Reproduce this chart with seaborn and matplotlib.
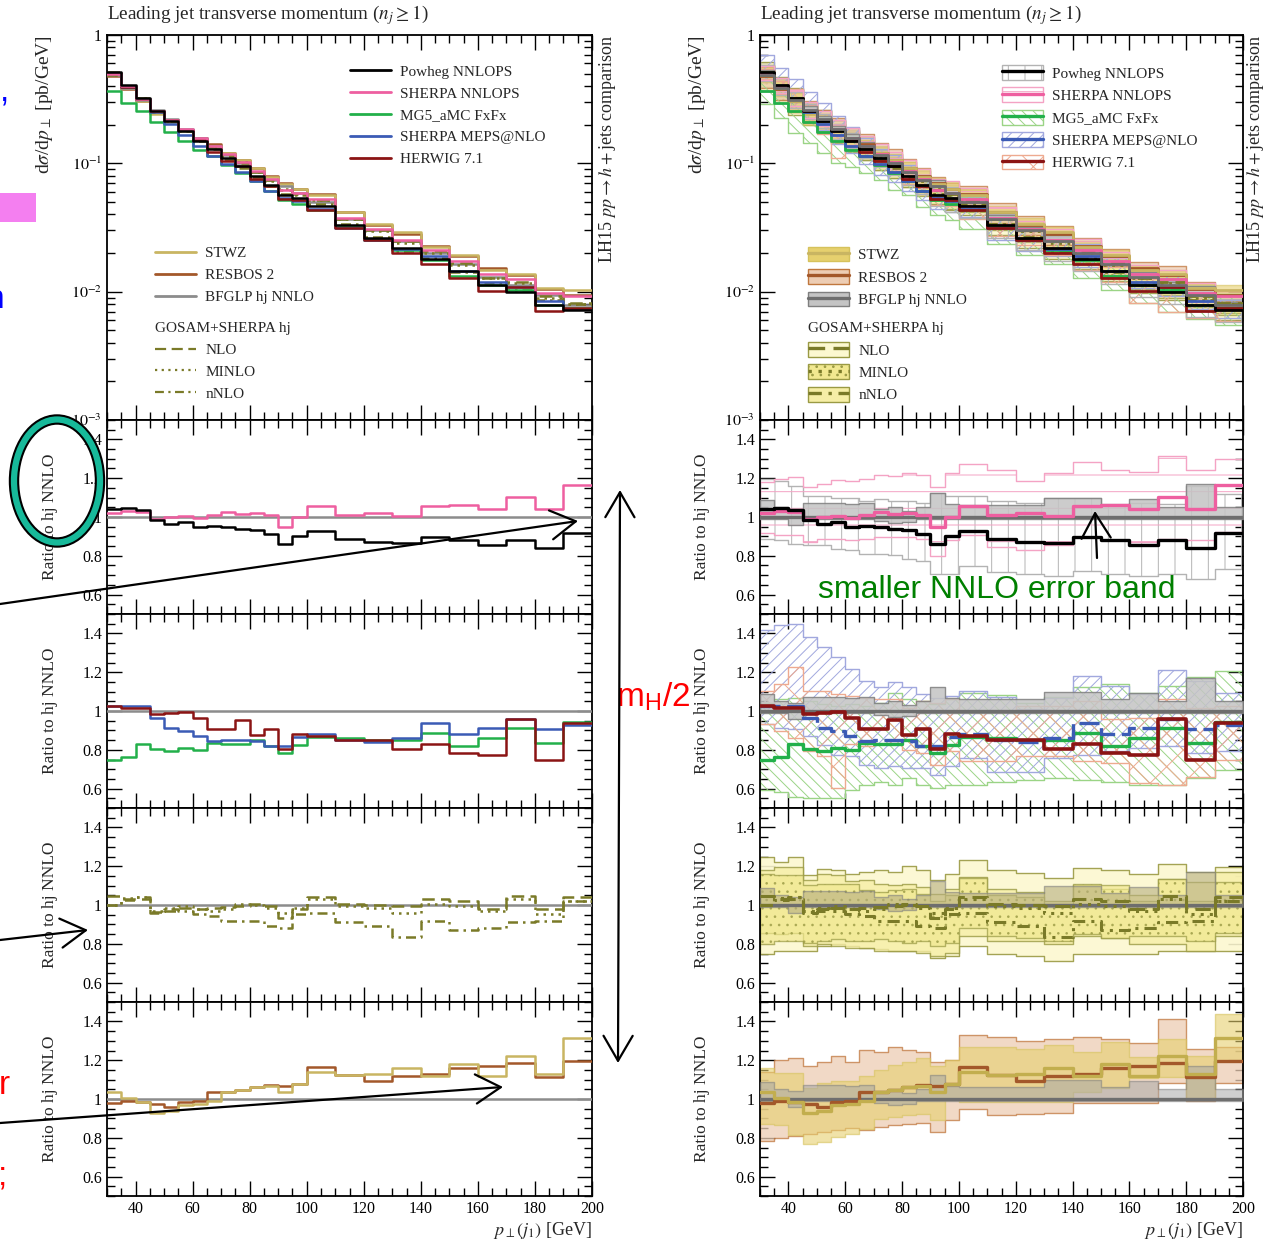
import numpy as np
import matplotlib
matplotlib.use('Agg')
import matplotlib.pyplot as plt
import seaborn as sns
from matplotlib.lines import Line2D
from matplotlib.patches import Patch, Ellipse, Rectangle, FancyArrowPatch
from matplotlib.ticker import MultipleLocator, LogLocator, NullFormatter

# bin edges of leading jet pT [GeV]
edges = [30, 35, 40, 45, 50, 55, 60, 65, 70, 75, 80, 85, 90, 95, 100,
         110, 120, 130, 140, 150, 160, 170, 180, 190, 200]

# reference: BFGLP hj NNLO  [pb/GeV]
nnlo = [0.49, 0.386, 0.311, 0.26, 0.22, 0.184, 0.158, 0.136, 0.116, 0.101, 0.086, 0.074,
        0.066, 0.059, 0.050, 0.037, 0.030, 0.025, 0.020, 0.0163, 0.0131, 0.0113, 0.0094, 0.0079]
nnlo_hi = [1.09, 1.05, 1.04, 1.07, 1.07, 1.07, 1.065, 1.07, 1.04, 1.05, 1.03, 1.05,
           1.126, 1.065, 1.06, 1.06, 1.06, 1.10, 1.10, 1.06, 1.095, 1.05, 1.17, 1.05]
nnlo_lo = [0.99, 0.99, 0.96, 0.99, 0.99, 0.99, 0.99, 0.99, 0.98, 0.97, 0.975, 0.99,
           0.99, 0.99, 0.99, 0.99, 0.99, 0.99, 0.99, 0.99, 0.99, 0.99, 0.99, 0.99]

# ratios to hj NNLO (central values)
powheg = [1.043, 1.047, 1.038, 0.986, 0.963, 0.972, 0.946, 0.955, 0.946, 0.937, 0.934, 0.913,
          0.859, 0.904, 0.930, 0.887, 0.873, 0.868, 0.896, 0.882, 0.856, 0.882, 0.842, 0.917]
sherpa_nnlops = [1.021, 1.03, 1.026, 0.991, 0.998, 1.007, 0.995, 1.012, 1.026, 1.017, 1.021, 1.012,
                 0.946, 0.998, 1.056, 1.012, 1.021, 1.007, 1.056, 1.061, 1.043, 1.103, 1.043, 1.163]
mg5 = [0.75, 0.762, 0.828, 0.802, 0.793, 0.807, 0.797, 0.836, 0.831, 0.831, 0.848, 0.819,
       0.784, 0.824, 0.866, 0.859, 0.848, 0.848, 0.888, 0.819, 0.859, 0.914, 0.836, 0.945]
meps = [1.026, 1.026, 1.026, 0.962, 0.914, 0.897, 0.871, 0.845, 0.853, 0.853, 0.845, 0.819,
        0.819, 0.866, 0.883, 0.853, 0.841, 0.859, 0.94, 0.883, 0.91, 0.957, 0.905, 0.928]
herwig = [1.026, 1.014, 1.014, 0.983, 0.991, 0.997, 0.966, 0.905, 0.905, 0.952, 0.876, 0.905,
          0.802, 0.883, 0.871, 0.848, 0.848, 0.805, 0.828, 0.784, 0.772, 0.957, 0.75, 0.94]
gs_nlo = [1.046, 1.03, 1.03, 0.96, 0.97, 0.986, 0.978, 0.986, 0.99, 0.995, 1.003, 0.995,
          0.935, 0.978, 1.04, 1.003, 1.0, 0.995, 1.03, 1.02, 0.978, 1.046, 0.978, 1.04]
gs_minlo = [1.0, 1.037, 1.04, 0.97, 0.986, 0.995, 0.978, 0.97, 0.978, 1.007, 1.0, 0.986,
            0.96, 0.986, 1.03, 0.995, 0.986, 0.96, 1.007, 0.995, 0.97, 1.03, 0.955, 1.02]
gs_nnlo = [1.0, 1.024, 1.04, 0.966, 0.978, 0.97, 0.952, 0.944, 0.918, 0.918, 0.915, 0.892,
           0.88, 0.952, 0.96, 0.91, 0.892, 0.836, 0.918, 0.87, 0.884, 0.91, 0.918, 1.02]
stwz = [1.038, 1.003, 0.983, 0.928, 0.94, 0.969, 0.974, 0.991, 1.034, 1.048, 1.06, 1.066,
        1.038, 1.078, 1.138, 1.124, 1.129, 1.159, 1.117, 1.178, 1.117, 1.22, 1.129, 1.316]
resbos = [0.98, 0.991, 0.986, 0.974, 0.957, 0.986, 0.991, 1.034, 1.034, 1.048, 1.06, 1.072,
          1.069, 1.078, 1.164, 1.124, 1.095, 1.117, 1.129, 1.159, 1.172, 1.186, 1.112, 1.198]

# uncertainty bands (ratio to hj NNLO)
powheg_hi = [1.196, 1.188, 1.161, 1.109, 1.109, 1.10, 1.10, 1.082, 1.091, 1.082, 1.082, 1.074,
             1.126, 1.109, 1.109, 1.082, 1.074, 1.10, 1.10, 1.065, 1.074, 1.068, 1.161, 1.118]
powheg_lo = [0.889, 0.881, 0.863, 0.854, 0.854, 0.837, 0.828, 0.811, 0.811, 0.802, 0.784, 0.775,
             0.705, 0.705, 0.749, 0.714, 0.705, 0.696, 0.723, 0.705, 0.696, 0.705, 0.679, 0.732]
sherpa_nnlops_hi = [1.18, 1.196, 1.205, 1.153, 1.17, 1.191, 1.188, 1.196, 1.214, 1.209, 1.226, 1.214,
                    1.153, 1.226, 1.275, 1.24, 1.188, 1.226, 1.284, 1.24, 1.23, 1.314, 1.24, 1.30]
sherpa_nnlops_lo = [0.916, 0.907, 0.907, 0.87, 0.888, 0.888, 0.884, 0.888, 0.898, 0.898, 0.898, 0.888,
                    0.80, 0.879, 0.907, 0.845, 0.83, 0.856, 0.898, 0.879, 0.87, 0.888, 0.879, 0.925]
meps_hi = [1.417, 1.443, 1.451, 1.382, 1.33, 1.278, 1.217, 1.156, 1.122, 1.148, 1.122, 1.087,
           1.069, 1.078, 1.104, 1.073, 1.009, 1.069, 1.182, 1.13, 1.087, 1.212, 1.156, 1.095]
meps_lo = [0.931, 0.913, 0.905, 0.87, 0.826, 0.774, 0.766, 0.722, 0.705, 0.714, 0.705, 0.705,
           0.67, 0.714, 0.757, 0.688, 0.688, 0.757, 0.774, 0.792, 0.809, 0.818, 0.783, 0.792]
mg5_hi = [1.043, 1.061, 1.066, 1.052, 1.035, 1.026, 1.035, 1.026, 1.043, 1.095, 1.061, 1.052,
          1.035, 1.061, 1.095, 1.083, 1.043, 1.073, 1.122, 1.139, 1.095, 1.13, 1.174, 1.208]
mg5_lo = [0.592, 0.583, 0.557, 0.549, 0.549, 0.549, 0.592, 0.618, 0.635, 0.618, 0.653, 0.618,
          0.601, 0.618, 0.618, 0.635, 0.644, 0.653, 0.644, 0.635, 0.618, 0.618, 0.653, 0.696]
herwig_hi = [1.104, 1.139, 1.226, 1.104, 1.104, 1.087, 1.078, 1.069, 1.061, 1.061, 1.017, 1.052,
             1.043, 1.061, 1.0, 1.0, 1.026, 1.026, 1.052, 0.957, 0.965, 1.061, 1.017, 1.026]
herwig_lo = [0.931, 0.896, 0.861, 0.792, 0.766, 0.601, 0.83, 0.818, 0.83, 0.835, 0.8, 0.783,
             0.722, 0.792, 0.74, 0.74, 0.766, 0.766, 0.74, 0.731, 0.627, 0.618, 0.661, 0.748]
gs_nlo_hi = [1.248, 1.222, 1.248, 1.153, 1.188, 1.179, 1.161, 1.17, 1.179, 1.17, 1.2, 1.179,
             1.127, 1.158, 1.231, 1.179, 1.165, 1.141, 1.191, 1.179, 1.158, 1.21, 1.17, 1.196]
gs_nlo_lo = [0.745, 0.762, 0.762, 0.762, 0.788, 0.797, 0.788, 0.78, 0.771, 0.762, 0.762, 0.762,
             0.727, 0.736, 0.788, 0.745, 0.736, 0.713, 0.745, 0.745, 0.745, 0.762, 0.762, 0.762]
gs_minlo_hi = [1.16, 1.153, 1.153, 1.101, 1.109, 1.109, 1.109, 1.075, 1.066, 1.075, 1.083, 1.057,
               1.023, 1.049, 1.14, 1.049, 1.04, 1.005, 1.109, 1.101, 1.023, 1.132, 1.023, 1.118]
gs_minlo_lo = [0.797, 0.814, 0.814, 0.805, 0.814, 0.823, 0.814, 0.814, 0.823, 0.814, 0.805, 0.814,
               0.788, 0.805, 0.884, 0.84, 0.832, 0.814, 0.849, 0.832, 0.84, 0.84, 0.814, 0.858]
gs_nnlo_hi = [1.182, 1.196, 1.196, 1.127, 1.161, 1.153, 1.123, 1.127, 1.109, 1.101, 1.109, 1.092,
              1.057, 1.083, 1.144, 1.083, 1.066, 1.023, 1.101, 1.083, 1.049, 1.135, 1.118, 1.17]
gs_nnlo_lo = [0.858, 0.849, 0.858, 0.788, 0.797, 0.788, 0.78, 0.78, 0.762, 0.762, 0.762, 0.753,
              0.736, 0.753, 0.84, 0.814, 0.814, 0.797, 0.84, 0.832, 0.797, 0.797, 0.762, 0.84]
stwz_hi = [1.16, 1.134, 1.134, 1.056, 1.085, 1.095, 1.095, 1.12, 1.151, 1.177, 1.189, 1.212,
           1.172, 1.203, 1.267, 1.267, 1.259, 1.276, 1.241, 1.293, 1.217, 1.311, 1.224, 1.438]
stwz_lo = [0.873, 0.865, 0.812, 0.769, 0.778, 0.804, 0.821, 0.847, 0.899, 0.905, 0.917, 0.925,
           0.894, 0.995, 0.986, 0.986, 0.986, 0.986, 1.038, 1.056, 1.108, 1.113, 0.995, 1.194]
resbos_hi = [1.14, 1.20, 1.21, 1.17, 1.19, 1.22, 1.19, 1.25, 1.24, 1.27, 1.25, 1.24,
             1.19, 1.20, 1.33, 1.32, 1.30, 1.31, 1.32, 1.31, 1.29, 1.41, 1.26, 1.27]
resbos_lo = [0.786, 0.80, 0.81, 0.82, 0.83, 0.84, 0.85, 0.84, 0.855, 0.865, 0.87, 0.875,
             0.83, 0.89, 0.95, 0.92, 0.925, 0.93, 0.98, 0.98, 0.98, 1.08, 0.99, 1.08]

ones = [1.0] * len(nnlo)

C_PINK, C_GREEN, C_BLUE, C_RED = '#ee5fa0', '#22b04a', '#3b5bb5', '#8b1414'
C_STWZ, C_RESB, C_GRAY, C_OLIVE = '#c9b562', '#a3582a', '#8c8c8c', '#7a7a28'
LS_NLO, LS_MINLO, LS_NNLO = (0, (5, 2.5)), (0, (1, 2)), (0, (4, 2, 1, 2))

sns.set_theme(style='ticks')
plt.rcParams['font.family'] = ['Liberation Serif', 'DejaVu Serif']
plt.rcParams['mathtext.fontset'] = 'stix'
plt.rcParams['hatch.linewidth'] = 0.7
plt.rcParams['axes.edgecolor'] = 'black'
plt.rcParams['axes.linewidth'] = 1.3

W, H = 1268, 1242
fig = plt.figure(figsize=(W / 100, H / 100), dpi=100)


def fx(px):
    return px / W


def fy(py):
    return 1 - py / H


rows = [(35, 420), (420, 614), (614, 808), (808, 1002), (1002, 1196)]


def make_col(x0, x1):
    return [fig.add_axes([fx(x0), fy(b), fx(x1 - x0), (b - t) / H]) for t, b in rows]


def step(ax, r, color, lw=1.8, ls='-', z=5, scale=None):
    y = np.asarray(r, float)
    if scale is not None:
        y = y * np.asarray(scale)
    y = np.append(y, y[-1])
    sns.lineplot(x=edges, y=y, ax=ax, color=color, lw=lw, linestyle=ls,
                 drawstyle='steps-post', estimator=None, sort=False, zorder=z)


def band(ax, lo, hi, fc, ec, hatch=None, alpha=1.0, z=2, scale=None):
    lo = np.asarray(lo, float)
    hi = np.asarray(hi, float)
    if scale is not None:
        lo, hi = lo * np.asarray(scale), hi * np.asarray(scale)
    ax.fill_between(edges, np.append(lo, lo[-1]), np.append(hi, hi[-1]), step='post',
                    facecolor=fc, edgecolor=ec, hatch=hatch, alpha=alpha, lw=1.0, zorder=z)


def style(axs, main_lab_x, rat_lab_x, side_x):
    for i, ax in enumerate(axs):
        ax.set_xlim(30, 200)
        ax.xaxis.set_major_locator(MultipleLocator(20))
        ax.xaxis.set_minor_locator(MultipleLocator(5))
        ax.tick_params(which='both', direction='in', top=True, right=True, colors='black',
                       labelsize=11.5, width=1.0)
        ax.tick_params(which='major', length=11)
        ax.tick_params(which='minor', length=5.5)
        ax.set_xlabel('')
        ax.set_ylabel('')
        if i < 4:
            ax.tick_params(labelbottom=False)
        if i == 0:
            ax.set_yscale('log')
            ax.set_ylim(1e-3, 1)
            ax.set_yticks([1e-3, 1e-2, 1e-1, 1],
                          labels=[r'$10^{-3}$', r'$10^{-2}$', r'$10^{-1}$', '1'])
            ax.yaxis.set_minor_locator(LogLocator(base=10, subs=np.arange(2, 10)))
            ax.yaxis.set_minor_formatter(NullFormatter())
            ax.set_ylabel(r'd$\sigma$/d$p_\perp$ [pb/GeV]', loc='top', fontsize=14)
            ax.yaxis.set_label_coords(main_lab_x, 1.0)
            ax.text(0.0, 1.02, r'Leading jet transverse momentum ($n_j \geq 1$)',
                    transform=ax.transAxes, ha='left', va='bottom', fontsize=13.8)
            ax.text(side_x, 1.0, r'LH15 $pp \rightarrow h+$jets comparison', rotation=90,
                    transform=ax.transAxes, ha='left', va='top', fontsize=13)
        else:
            ax.set_ylim(0.5, 1.5)
            ax.set_yticks([0.6, 0.8, 1.0, 1.2, 1.4], labels=['0.6', '0.8', '1', '1.2', '1.4'])
            ax.yaxis.set_minor_locator(MultipleLocator(0.05))
            ax.set_ylabel('Ratio to hj NNLO', fontsize=12.5)
            ax.yaxis.set_label_coords(rat_lab_x, 0.5)
    axs[4].set_xlabel(r'$p_\perp(j_1)$ [GeV]', loc='right', fontsize=13, labelpad=2)


def legends(ax, h_gen, h_res, h_gs, hh, sp):
    kw = dict(fontsize=11, frameon=False, handlelength=2.7, handletextpad=0.6,
              handleheight=hh, labelspacing=sp, borderpad=0,
              borderaxespad=0, loc='upper left')
    l1 = ax.legend(h_gen, ['Powheg NNLOPS', 'SHERPA NNLOPS', 'MG5_aMC FxFx',
                           'SHERPA MEPS@NLO', 'HERWIG 7.1'],
                   bbox_to_anchor=(0.50, 0.922), **kw)
    ax.add_artist(l1)
    l2 = ax.legend(h_res, ['STWZ', 'RESBOS 2', 'BFGLP hj NNLO'],
                   bbox_to_anchor=(0.099, 0.45), **kw)
    ax.add_artist(l2)
    ax.legend(h_gs, ['NLO', 'MINLO', 'nNLO'], title='GOSAM+SHERPA hj', title_fontsize=11,
              alignment='left', bbox_to_anchor=(0.099, 0.254), **kw)


# ---------------- left column: central values ----------------
L = make_col(107, 592)
m = L[0]
for r, c, ls in [(resbos, C_RESB, '-'), (stwz, C_STWZ, '-'), (ones, C_GRAY, '-'),
                 (gs_nlo, C_OLIVE, LS_NLO), (gs_minlo, C_OLIVE, LS_MINLO), (gs_nnlo, C_OLIVE, LS_NNLO),
                 (mg5, C_GREEN, '-'), (meps, C_BLUE, '-'), (herwig, C_RED, '-'),
                 (sherpa_nnlops, C_PINK, '-'), (powheg, 'black', '-')]:
    step(m, r, c, lw=1.8, ls=ls, scale=nnlo)

step(L[1], ones, C_GRAY, z=3)
step(L[1], sherpa_nnlops, C_PINK)
step(L[1], powheg, 'black')
step(L[2], ones, C_GRAY, z=3)
step(L[2], mg5, C_GREEN)
step(L[2], meps, C_BLUE)
step(L[2], herwig, C_RED)
step(L[3], ones, C_GRAY, z=3)
step(L[3], gs_nlo, C_OLIVE, ls=LS_NLO)
step(L[3], gs_minlo, C_OLIVE, ls=LS_MINLO)
step(L[3], gs_nnlo, C_OLIVE, ls=LS_NNLO)
step(L[4], ones, C_GRAY, z=3)
step(L[4], resbos, C_RESB)
step(L[4], stwz, C_STWZ)
style(L, -0.107, -0.101, 1.01)


def ln(c, ls='-', lw=2):
    return Line2D([], [], color=c, lw=lw, ls=ls)


legends(m,
        [ln('black'), ln(C_PINK), ln(C_GREEN), ln(C_BLUE), ln(C_RED)],
        [ln(C_STWZ), ln(C_RESB), ln(C_GRAY)],
        [ln(C_OLIVE, LS_NLO, 1.6), ln(C_OLIVE, LS_MINLO, 1.6), ln(C_OLIVE, LS_NNLO, 1.6)],
        0.7, 0.53)

# ---------------- right column: with uncertainty bands ----------------
B_NNLO = dict(fc='#c4c4c4', ec='#7f7f7f', alpha=0.85)
B_PW = dict(fc='none', ec='#b3b3b3', hatch='|')
B_SH = dict(fc='none', ec='#f4a3c4', hatch='-')
B_MG = dict(fc='none', ec='#9bd486', hatch='\\\\\\')
B_ME = dict(fc='none', ec='#a1a8de', hatch='///')
B_HW = dict(fc='none', ec='#eeaa90', hatch='x')
B_NLO = dict(fc='#fcf8d0', ec='#9a9a44', alpha=0.9)
B_NN = dict(fc='#f6eea6', ec='#9a9a44', alpha=0.8)
B_MI = dict(fc='#f1e890', ec='#9a9a44', hatch='..', alpha=0.7)
B_RB = dict(fc='#edcdb4', ec='#c0773e', alpha=0.75)
B_ST = dict(fc='#e6d06e', ec='#d6c25c', alpha=0.6)

R = make_col(760, 1243)
m = R[0]
for lo, hi, st in [(gs_nlo_lo, gs_nlo_hi, B_NLO), (gs_nnlo_lo, gs_nnlo_hi, B_NN),
                   (gs_minlo_lo, gs_minlo_hi, B_MI), (resbos_lo, resbos_hi, B_RB),
                   (stwz_lo, stwz_hi, B_ST), (mg5_lo, mg5_hi, B_MG), (meps_lo, meps_hi, B_ME),
                   (herwig_lo, herwig_hi, B_HW), (powheg_lo, powheg_hi, B_PW),
                   (sherpa_nnlops_lo, sherpa_nnlops_hi, B_SH), (nnlo_lo, nnlo_hi, B_NNLO)]:
    band(m, lo, hi, scale=nnlo, **st)
for r, c, ls in [(resbos, C_RESB, '-'), (stwz, C_STWZ, '-'),
                 (gs_nlo, C_OLIVE, LS_NLO), (gs_minlo, C_OLIVE, LS_MINLO), (gs_nnlo, C_OLIVE, LS_NNLO),
                 (mg5, C_GREEN, '-'), (meps, C_BLUE, '-'), (herwig, C_RED, '-'),
                 (sherpa_nnlops, C_PINK, '-'), (powheg, 'black', '-'), (ones, '#6e6e6e', '-')]:
    step(m, r, c, lw=2.0, ls=ls, scale=nnlo)

band(R[1], powheg_lo, powheg_hi, **B_PW)
band(R[1], sherpa_nnlops_lo, sherpa_nnlops_hi, **B_SH)
band(R[1], nnlo_lo, nnlo_hi, z=3, **B_NNLO)
step(R[1], ones, '#6e6e6e', lw=2.4, z=4)
step(R[1], sherpa_nnlops, C_PINK, lw=2.4)
step(R[1], powheg, 'black', lw=2.4)

band(R[2], mg5_lo, mg5_hi, **B_MG)
band(R[2], meps_lo, meps_hi, **B_ME)
band(R[2], herwig_lo, herwig_hi, **B_HW)
band(R[2], nnlo_lo, nnlo_hi, z=3, **B_NNLO)
step(R[2], ones, '#6e6e6e', lw=2.4, z=4)
step(R[2], mg5, C_GREEN, lw=2.4)
step(R[2], meps, C_BLUE, lw=2.4, ls=(0, (6, 2)))
step(R[2], herwig, C_RED, lw=2.6)

band(R[3], gs_nlo_lo, gs_nlo_hi, **B_NLO)
band(R[3], gs_nnlo_lo, gs_nnlo_hi, **B_NN)
band(R[3], gs_minlo_lo, gs_minlo_hi, **B_MI)
band(R[3], nnlo_lo, nnlo_hi, z=3, fc='#b5ad80', ec='#7f7f7f', alpha=0.6)
step(R[3], ones, '#6e6e6e', lw=2.4, z=4)
step(R[3], gs_nlo, C_OLIVE, lw=2.2, ls=LS_NLO)
step(R[3], gs_minlo, C_OLIVE, lw=2.2, ls=LS_MINLO)
step(R[3], gs_nnlo, C_OLIVE, lw=2.2, ls=LS_NNLO)

band(R[4], resbos_lo, resbos_hi, **B_RB)
band(R[4], stwz_lo, stwz_hi, **B_ST)
band(R[4], nnlo_lo, nnlo_hi, z=3, fc='#a8a8a8', ec='#7f7f7f', alpha=0.55)
step(R[4], ones, '#6e6e6e', lw=2.4, z=4)
step(R[4], resbos, C_RESB, lw=2.4)
step(R[4], stwz, '#c2ae4e', lw=2.4)
style(R, -0.108, -0.104, 1.004)


def bh(st, c, ls='-'):
    return (Patch(facecolor=st['fc'], edgecolor=st['ec'], hatch=st.get('hatch')),
            Line2D([], [], color=c, lw=2.4, ls=ls))


legends(m,
        [bh(B_PW, 'black'), bh(B_SH, C_PINK), bh(B_MG, C_GREEN), bh(B_ME, C_BLUE), bh(B_HW, C_RED)],
        [bh(B_ST, C_STWZ), bh(B_RB, C_RESB), bh(B_NNLO, '#6e6e6e')],
        [bh(B_NLO, C_OLIVE, LS_NLO), bh(B_MI, C_OLIVE, LS_MINLO), bh(B_NN, C_OLIVE, LS_NNLO)],
        1.1, 0.45)

# ---------------- slide annotations ----------------
sans = ['Liberation Sans', 'DejaVu Sans']
fig.add_artist(Rectangle((0, fy(222)), fx(36), 29 / H, transform=fig.transFigure,
                         facecolor='#f47ff0', edgecolor='none'))
fig.text(fx(9), fy(92), ',', color='blue', fontsize=24, ha='right', va='center', family=sans)
fig.text(fx(4), fy(300), 'n', color='blue', fontsize=24, ha='right', va='center', family=sans)
fig.text(fx(10), fy(1086), 'r', color='red', fontsize=24, ha='right', va='center', family=sans)
fig.text(fx(7), fy(1176), ';', color='red', fontsize=24, ha='right', va='center', family=sans)

for lw, c in [(7.5, 'black'), (4.5, '#17b99a')]:
    fig.add_artist(Ellipse((fx(57), fy(481)), fx(86), 123 / H, transform=fig.transFigure,
                           facecolor='none', edgecolor=c, lw=lw, zorder=20))


def arrow(p0, p1, style_='->'):
    fig.add_artist(FancyArrowPatch((fx(p0[0]), fy(p0[1])), (fx(p1[0]), fy(p1[1])),
                                   transform=fig.transFigure,
                                   arrowstyle=style_ + ',head_length=0.6,head_width=0.35',
                                   mutation_scale=30, lw=1.6, color='black', zorder=20,
                                   shrinkA=0, shrinkB=0))


arrow((0, 604), (578, 521))
arrow((0, 940), (88, 930))
arrow((0, 1123), (503, 1087))
arrow((620, 490), (618, 1063), '<->')
arrow((1097, 558), (1095, 511))

fig.text(fx(616), fy(697), r'm$_\mathregular{H}$/2', color='red', fontsize=24,
         ha='left', va='center', family=sans)
fig.text(fx(818), fy(590), 'smaller NNLO error band', color='green', fontsize=23,
         ha='left', va='center', family=sans)

fig.savefig('out.png', dpi=100)
